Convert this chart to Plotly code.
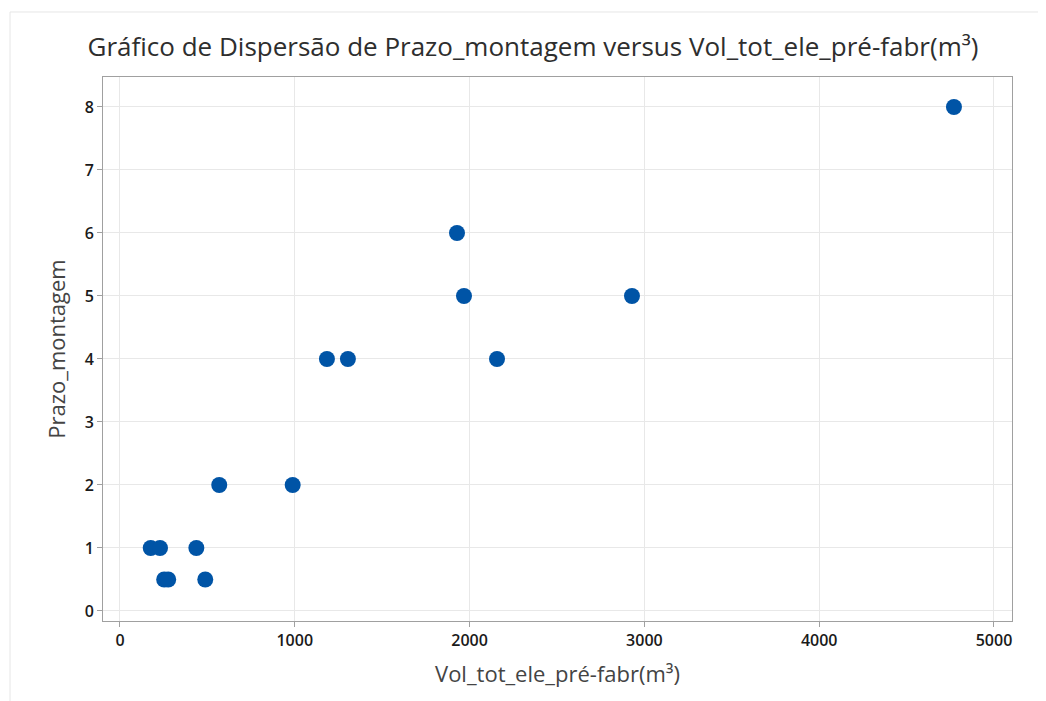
import plotly.graph_objects as go

vol = [176, 229, 437, 253, 276, 488, 568, 988, 1184, 1304, 1928, 1968, 2157, 2929, 4771]
prazo = [1, 1, 1, 0.5, 0.5, 0.5, 2, 2, 4, 4, 6, 5, 4, 5, 8]

x_ticks = [0, 1000, 2000, 3000, 4000, 5000]
y_ticks = [0, 1, 2, 3, 4, 5, 6, 7, 8]

font_family = "Open Sans, Noto Sans, sans-serif"

W, H = 1038, 693

fig = go.Figure()
fig.add_trace(go.Scatter(
    x=vol, y=prazo, mode="markers",
    marker=dict(size=16, color="#0054A6", line=dict(width=0)),
    showlegend=False,
))

axis_common = dict(
    showgrid=True, gridcolor="#E8E8E8", gridwidth=1,
    showline=True, linecolor="#A0A0A0", linewidth=1, mirror=True,
    ticks="outside", ticklen=5, tickcolor="#A0A0A0",
    zeroline=False,
    tickfont=dict(family=font_family, size=16, color="#1A1A1A", weight=600),
)

fig.update_layout(
    width=W, height=H,
    margin=dict(l=95, r=34, t=69, b=80),
    paper_bgcolor="white", plot_bgcolor="white",
    title=dict(
        text="Gráfico de Dispersão de Prazo_montagem versus Vol_tot_ele_pré-fabr(m³)",
        x=(533 - 8) / W, xanchor="center", xref="container",
        y=1 - 39 / H, yanchor="middle", yref="container",
        font=dict(family=font_family, size=26, color="#2E2E2E", weight=500),
    ),
    xaxis=dict(
        range=[-97, 5103], tickvals=x_ticks,
        title=dict(text="Vol_tot_ele_pré-fabr(m³)", standoff=16,
                   font=dict(family=font_family, size=22, color="#444444")),
        **axis_common,
    ),
    yaxis=dict(
        range=[-0.159, 8.476], tickvals=y_ticks,
        title=dict(text="Prazo_montagem", standoff=12,
                   font=dict(family=font_family, size=22, color="#444444")),
        **axis_common,
    ),
    shapes=[
        dict(type="rect", xref="paper", yref="paper",
             x0=-0.1023, x1=1.2, y0=-0.3, y1=1.1195,
             line=dict(color="#E6E6E6", width=1), layer="below"),
    ],
)

fig.write_html("out.html")
